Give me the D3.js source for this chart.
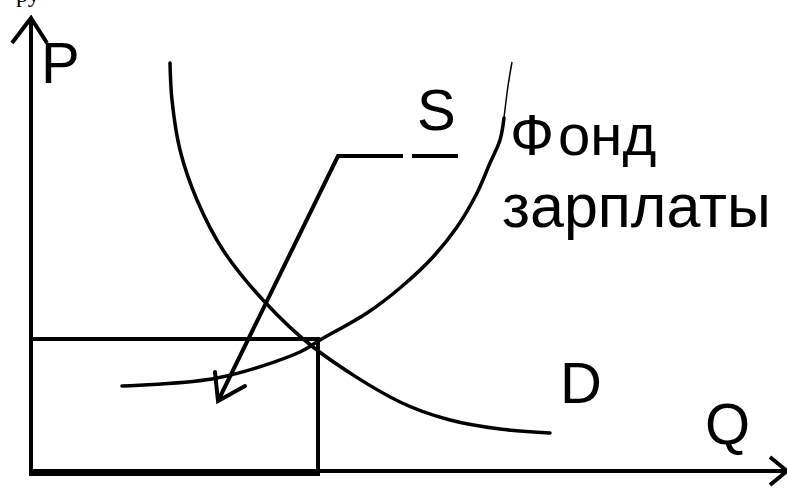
<!DOCTYPE html>
<html>
<head>
<meta charset="utf-8">
<script src="https://cdn.jsdelivr.net/npm/d3@7"></script>
<style>
  body { margin: 0; background: #fff; }
  text { font-family: "Liberation Sans", Arial, sans-serif; fill: #000; }
</style>
</head>
<body>
<div id="chart"></div>
<script>
var width = 787;
var height = 488;

// curve points in (Q, P) units measured from the origin
var demand = [[139,408],[141,371],[149,321],[166,271],[192,221],[232,171],[282,124],[369,69],[419,51],[469,42],[519,38]];
var supply = [[91,85],[186,93],[269,119],[289,131],[336,158],[369,183],[402,214],[426,244],[446,278],[459,308],[469,331],[473,353]];
var supplyTop = [[473,353],[477,385],[481,409]];
var equilibrium = [287, 132];
var leader = [[187,70],[307,315],[372,315]];
var leader2 = [[381,315],[427,315]];
var arrowWings = [[184,99],[187,70],[214,85]];

var labels = [
  {t: "P", q: 10, p: 388},
  {t: "S", q: 386, p: 341},
  {t: "D", q: 529, p: 68},
  {t: "Q", q: 674, p: 27}
];

var x = d3.scaleLinear().domain([0, 756]).range([31, 787]);
var y = d3.scaleLinear().domain([0, 453]).range([471, 18]);

var svg = d3.select("#chart").append("svg")
  .attr("width", width).attr("height", height);

var line = d3.line()
  .x(function(d) { return x(d[0]); })
  .y(function(d) { return y(d[1]); });
var smooth = d3.line()
  .x(function(d) { return x(d[0]); })
  .y(function(d) { return y(d[1]); })
  .curve(d3.curveCatmullRom);

// cut off caption at the top
svg.append("text").attr("x", 16).attr("y", 2)
  .style("font-family", "'Liberation Serif', serif").style("font-size", "24px")
  .text("ру");

// axes
svg.append("path").attr("d", line([[0,0],[0,453]]))
  .attr("stroke", "#000").attr("stroke-width", 4).attr("fill", "none");
svg.append("path").attr("d", line([[-19,428],[0,453],[16,428]]))
  .attr("stroke", "#000").attr("stroke-width", 4).attr("fill", "none");
svg.append("path").attr("d", line([[0,0],[756,0]]))
  .attr("stroke", "#000").attr("stroke-width", 4).attr("fill", "none");
svg.append("path").attr("d", line([[739,14],[756,0],[739,-14]]))
  .attr("stroke", "#000").attr("stroke-width", 4).attr("fill", "none");

// wage fund rectangle
svg.append("rect")
  .attr("x", x(0)).attr("y", y(equilibrium[1]))
  .attr("width", x(equilibrium[0]) - x(0))
  .attr("height", y(-3) - y(equilibrium[1]))
  .attr("fill", "none").attr("stroke", "#000").attr("stroke-width", 4);

// curves
svg.append("path").attr("d", smooth(demand))
  .attr("stroke", "#000").attr("stroke-width", 3.5).attr("fill", "none")
  .attr("stroke-linecap", "round");
svg.append("path").attr("d", smooth(supply))
  .attr("stroke", "#000").attr("stroke-width", 3.5).attr("fill", "none")
  .attr("stroke-linecap", "round");
svg.append("path").attr("d", smooth(supplyTop))
  .attr("stroke", "#000").attr("stroke-width", 1.5).attr("fill", "none");

// leader with arrow
svg.append("path").attr("d", line(leader))
  .attr("stroke", "#000").attr("stroke-width", 4).attr("fill", "none");
svg.append("path").attr("d", line(leader2))
  .attr("stroke", "#000").attr("stroke-width", 4).attr("fill", "none");
svg.append("path").attr("d", line(arrowWings))
  .attr("stroke", "#000").attr("stroke-width", 4).attr("fill", "none")
  .attr("stroke-linecap", "round");

svg.selectAll("text.lbl").data(labels).enter().append("text")
  .attr("class", "lbl")
  .attr("x", function(d) { return x(d.q); })
  .attr("y", function(d) { return y(d.p); })
  .style("font-size", "58px")
  .text(function(d) { return d.t; });

var fund = svg.append("text").attr("x", x(479)).attr("y", y(316)).style("font-size", "58px");
fund.append("tspan").text("Ф");
fund.append("tspan").attr("dx", 4).text("онд");
svg.append("text").attr("x", x(471)).attr("y", y(244)).style("font-size", "61px")
  .text("зарплаты");
</script>
</body>
</html>
